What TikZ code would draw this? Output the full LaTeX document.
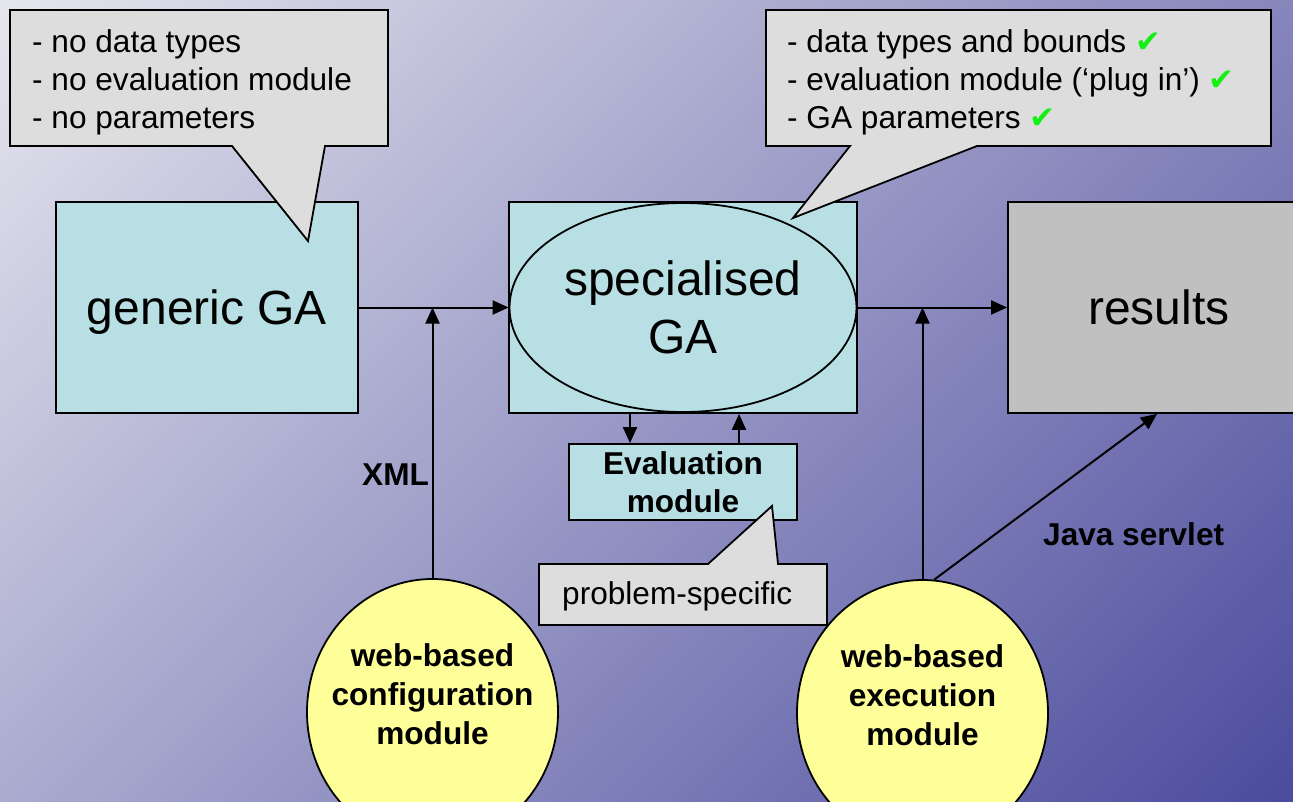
\documentclass[tikz,border=0pt]{standalone}
\usepackage{fontspec}
\setmainfont{Liberation Sans}
\newfontfamily\symfont{DejaVu Sans}
\usetikzlibrary{arrows.meta,shapes.geometric,shadings}

\definecolor{bgTL}{RGB}{230,230,238}
\definecolor{bgTR}{RGB}{134,134,188}
\definecolor{bgBL}{RGB}{171,171,208}
\definecolor{bgBR}{RGB}{75,75,158}
\definecolor{cyanfill}{RGB}{184,224,228}
\definecolor{greyfill}{RGB}{192,192,192}
\definecolor{notefill}{RGB}{221,221,221}
\definecolor{yellowfill}{RGB}{255,255,153}
\definecolor{tick}{RGB}{20,240,20}

\newcommand{\ok}{{\symfont\fontsize{31}{31}\selectfont\color{tick}✔}}

\tikzset{
  big/.style={font=\fontsize{48}{58}\selectfont},
  norm/.style={font=\fontsize{31.6}{38}\selectfont},
  heavy/.style={font=\fontsize{31.6}{39}\selectfont\bfseries},
  cbox/.style={draw, line width=1.8pt, fill=cyanfill, inner sep=0pt},
  gbox/.style={draw, line width=1.8pt, fill=greyfill, inner sep=0pt},
  ybox/.style={draw, line width=1.8pt, fill=yellowfill, ellipse, inner sep=0pt},
  note/.style={draw, line width=1.8pt, fill=notefill, line join=miter},
  arr/.style={-{Triangle[length=16pt,width=14pt]}, line width=2pt},
  line/.style={inner sep=0pt, anchor=base west}
}

\begin{document}
\begin{tikzpicture}[x=1pt,y=1pt]
% backdrop
\shade[upper left=bgTL, upper right=bgTR, lower left=bgBL, lower right=bgBR]
  (0,0) rectangle (1293,-801);
\useasboundingbox (0,0) rectangle (1293,-801);
\clip (0,0) rectangle (1293,-801);

% main blocks
\node[cbox, big, minimum width=302pt, minimum height=211pt, text depth=0pt] (gen) at (207,-307.5) {generic GA};
\node[cbox, minimum width=348pt, minimum height=211pt] (specbox) at (683,-307.5) {};
\node[draw, line width=1.8pt, fill=cyanfill, ellipse, inner sep=0pt, big, align=center,
      minimum width=347pt, minimum height=209pt] (spec) at (683,-307.5) {specialised\\GA};
\node[gbox, big, minimum width=302pt, minimum height=211pt, text depth=0pt] (res) at (1159,-307.5) {results};
\node[cbox, align=center, font=\fontsize{31.6}{38}\selectfont\bfseries,
      minimum width=228pt, minimum height=76pt] (eval) at (683,-482) {Evaluation\\module};

% web modules
\node[ybox, minimum width=251pt, minimum height=266pt] (conf) at (432.5,-712) {};
\node[heavy, align=center, inner sep=0pt] (conftext) at (432.5,-694) {web-based\\configuration\\module};
\node[ybox, minimum width=251pt, minimum height=266pt] (exe) at (922.5,-713) {};
\node[heavy, align=center, inner sep=0pt] (exetext) at (922.5,-695) {web-based\\execution\\module};

% connectors
\draw[arr] (gen.east) -- (spec.west);
\draw[arr] (conf.north) -- (conf.north |- gen.east);
\draw[arr] (specbox.east) -- (res.west);
\draw[arr] (exe.north) -- (exe.north |- res.west);
\draw[arr] (exe.85) -- ([xshift=-2pt]res.south);
\draw[arr] ([xshift=-53pt]specbox.south) -- ([xshift=-53pt]eval.north);
\draw[arr] ([xshift=56pt]eval.north) -- ([xshift=56pt]specbox.south);

% connector labels
\node[line, heavy] (xml) at (362,-485) {XML};
\node[line, heavy] (java) at (1043,-545) {Java servlet};

% speech bubbles
\draw[note] (10,-10) -- (388,-10) -- (388,-146) -- (325,-146) -- (308,-241)
  -- (232,-146) -- (10,-146) -- cycle;
\node[line, norm] (n1a) at (32,-52) {- no data types};
\node[line, norm] (n1b) at (32,-90) {- no evaluation module};
\node[line, norm] (n1c) at (32,-128) {- no parameters};

\draw[note] (766,-10) -- (1271,-10) -- (1271,-146) -- (977,-146) -- (793,-218)
  -- (850,-146) -- (766,-146) -- cycle;
\node[line, norm] (n2a) at (787,-52) {- data types and bounds \ok};
\node[line, norm] (n2b) at (787,-90) {- evaluation module (‘plug in’) \ok};
\node[line, norm] (n2c) at (787,-128) {- GA parameters \ok};

\draw[note] (539,-564) -- (708,-564) -- (772,-506) -- (778,-564) -- (827,-564)
  -- (827,-625) -- (539,-625) -- cycle;
\node[line, norm] (n3) at (562,-604) {problem-specific};
\end{tikzpicture}
\end{document}
